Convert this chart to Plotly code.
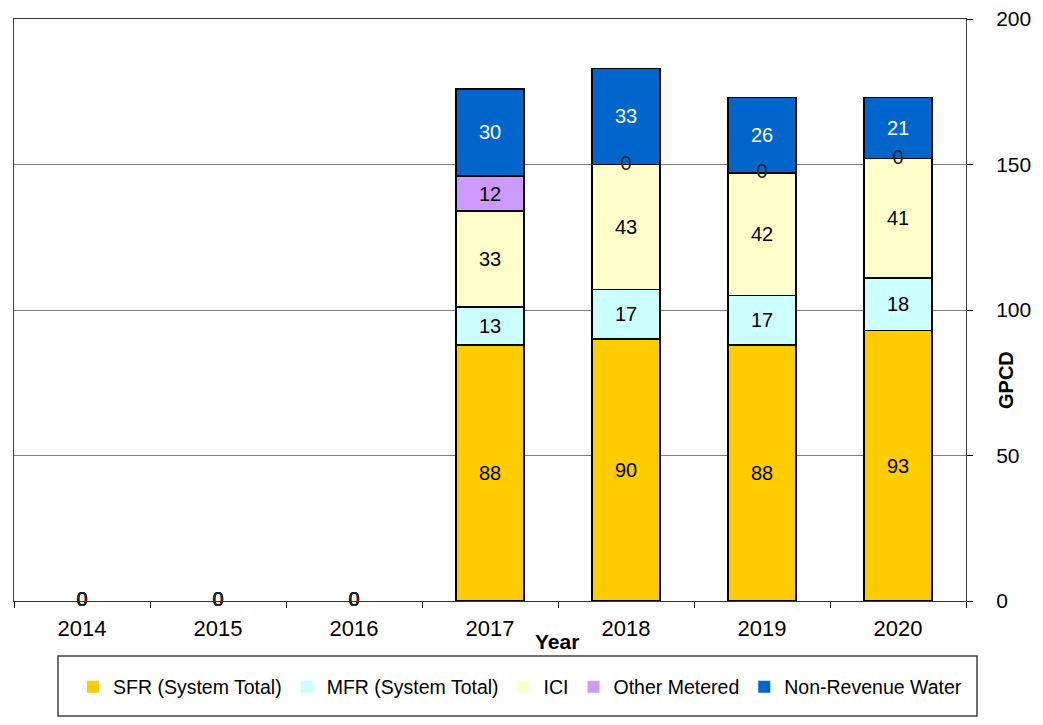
import plotly.graph_objects as go

years = ['2014', '2015', '2016', '2017', '2018', '2019', '2020']
sfr = [0, 0, 0, 88, 90, 88, 93]
mfr = [0, 0, 0, 13, 17, 17, 18]
ici = [0, 0, 0, 33, 43, 42, 41]
other = [0, 0, 0, 12, 0, 0, 0]
nrw = [0, 0, 0, 30, 33, 26, 21]

series_names = ['SFR (System Total)', 'MFR (System Total)', 'ICI', 'Other Metered', 'Non-Revenue Water']
series_values = [sfr, mfr, ici, other, nrw]
series_colors = ['#FFCC00', '#CCFFFF', '#FFFFCC', '#CC99FF', '#0066CC']
label_colors = ['black', 'black', 'black', 'black', 'white']

# page has an 8px body margin; work in screenshot pixel coordinates
OFF = 8
W, H = 1043 - OFF, 725 - 2 * OFF
PLOT_L, PLOT_R, PLOT_T, PLOT_B = 14, 966, 19, 601   # screenshot px
L = PLOT_L - OFF
T = PLOT_T - OFF
R = W - (PLOT_R - OFF)
B = H - (PLOT_B - OFF)
PW, PH = PLOT_R - PLOT_L, PLOT_B - PLOT_T

def px_x(p):
    return (p - PLOT_L) / PW

def px_y(p):
    return (PLOT_B - p) / PH

FONT = 'Liberation Sans, Arial, sans-serif'

fig = go.Figure()
base = [0] * len(years)
zx, zy = [], []
for name, vals, col, lc in zip(series_names, series_values, series_colors, label_colors):
    fig.add_trace(go.Bar(
        x=years, y=vals, name=name,
        marker=dict(color=col, line=dict(color='black',
                                         width=[1.5 if v != 0 else 0 for v in vals])),
        text=[str(v) if v != 0 else '' for v in vals],
        textposition='inside', insidetextanchor='middle', textangle=0,
        constraintext='none',
        textfont=dict(color=lc, size=20, family=FONT),
        hoverinfo='skip',
    ))
    for i, v in enumerate(vals):
        if v == 0:
            zx.append(years[i])
            zy.append(base[i])
    base = [b + v for b, v in zip(base, vals)]

fig.add_trace(go.Scatter(
    x=zx, y=zy, mode='text', text=['0'] * len(zx),
    textfont=dict(color='#222222', size=20, family=FONT),
    showlegend=False, cliponaxis=False, hoverinfo='skip',
))

fig.update_layout(
    width=W, height=H,
    margin=dict(l=L, r=R, t=T, b=B, autoexpand=False),
    paper_bgcolor='white', plot_bgcolor='white',
    barmode='stack', bargap=0.5,
    font=dict(family=FONT, color='black', size=20),
    showlegend=True,
    legend=dict(
        orientation='h', traceorder='normal',
        x=px_x(73), xanchor='left', y=px_y(687), yanchor='middle',
        font=dict(size=19.5, family=FONT, color='black'),
        bgcolor='rgba(0,0,0,0)', borderwidth=0,
    ),
    xaxis=dict(
        type='category', showline=True, mirror=True, linecolor='#333333', linewidth=1,
        ticks='outside', tickson='boundaries', ticklen=6, tickcolor='black',
        showgrid=False, tickfont=dict(size=22), ticklabelstandoff=8,
        range=[-0.5, 6.5],
    ),
    yaxis=dict(
        side='right', range=[0, 200], dtick=50, tick0=0,
        showline=True, mirror=True, linecolor='#404040', linewidth=1,
        ticks='outside', ticklen=6, tickcolor='black',
        showgrid=True, gridcolor='#808080', gridwidth=1,
        zeroline=False, tickfont=dict(size=21), ticklabelstandoff=19,
        ticklabeloverflow='allow',
    ),
    annotations=[
        dict(text='<b>Year</b>', x=px_x(557), y=px_y(641), xref='paper', yref='paper',
             showarrow=False, xanchor='center', yanchor='middle', font=dict(size=21)),
        dict(text='<b>GPCD</b>', x=px_x(1006), y=px_y(380), xref='paper', yref='paper',
             showarrow=False, xanchor='center', yanchor='middle', textangle=-90,
             font=dict(size=20)),
    ],
    shapes=[
        dict(type='rect', xref='paper', yref='paper',
             x0=px_x(58), x1=px_x(977), y0=px_y(716), y1=px_y(656),
             line=dict(color='#404040', width=1.5), fillcolor='rgba(0,0,0,0)', layer='above'),
        dict(type='rect', xref='paper', yref='paper',
             x0=px_x(1035), x1=px_x(1037), y0=px_y(OFF), y1=px_y(725 - OFF),
             line=dict(width=0), fillcolor='#444444', layer='above'),
    ],
)

fig.write_html('out.html')
